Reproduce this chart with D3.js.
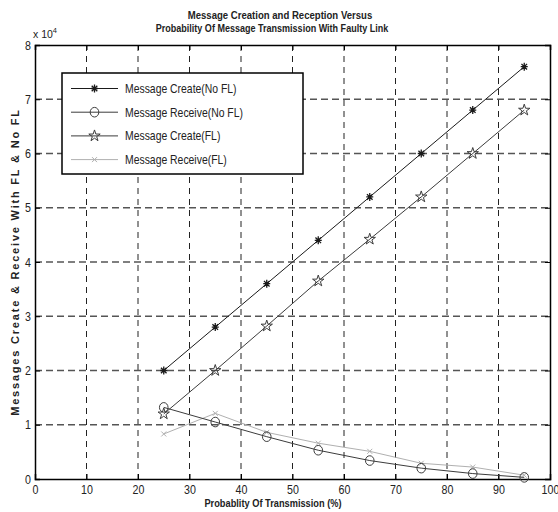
<!DOCTYPE html>
<html>
<head>
<meta charset="utf-8">
<script src="https://cdn.jsdelivr.net/npm/d3@7"></script>
<style>
  body { margin: 0; background: #fff; }
  svg text { font-family: "Liberation Sans Narrow", "Arial Narrow", "Liberation Sans", Arial, sans-serif; }
</style>
</head>
<body>
<script>
// data (values in messages)
var probability = [25, 35, 45, 55, 65, 75, 85, 95];
var createNoFL  = [20000, 28000, 36000, 44000, 52000, 60000, 68000, 76000];
var receiveNoFL = [13200, 10500, 7800, 5300, 3400, 2000, 1000, 300];
var createFL    = [12000, 20000, 28200, 36500, 44200, 52000, 60000, 68000];
var receiveFL   = [8300, 12100, 8600, 6600, 5100, 2900, 2200, 700];
var xTicks = [0, 10, 20, 30, 40, 50, 60, 70, 80, 90, 100];
var yTicks = [0, 1, 2, 3, 4, 5, 6, 7, 8];

var series = [
  {name: "Message Create(No FL)",  values: createNoFL,  color: "#1a1a1a", marker: "asterisk"},
  {name: "Message Receive(No FL)", values: receiveNoFL, color: "#3c3c3c", marker: "circle"},
  {name: "Message Create(FL)",     values: createFL,    color: "#3c3c3c", marker: "star"},
  {name: "Message Receive(FL)",    values: receiveFL,   color: "#b0b0b0", marker: "cross"}
];

var W = 558, H = 512;
var margin = {top: 45, right: 8, bottom: 33, left: 35},
    width = W - margin.left - margin.right,
    height = H - margin.top - margin.bottom;

// squeeze text horizontally, the original used a condensed helvetica
var narrow = function(sel, k) {
  sel.each(function() {
    var len = this.getComputedTextLength();
    d3.select(this).attr("textLength", len * k).attr("lengthAdjust", "spacingAndGlyphs");
  });
};

var svg = d3.select("body").append("svg")
    .attr("width", W)
    .attr("height", H);

var g = svg.append("g")
    .attr("transform", "translate(" + margin.left + "," + margin.top + ")");

var xScale = d3.scaleLinear().domain([0, 100]).range([0, width]);
var yScale = d3.scaleLinear().domain([0, 8]).range([height, 0]); // units of 10^4

// grid
g.append("g").selectAll("line")
  .data(xTicks.slice(1, -1))
  .enter().append("line")
  .attr("x1", d => xScale(d)).attr("x2", d => xScale(d))
  .attr("y1", 0).attr("y2", height)
  .attr("stroke", "#222").attr("stroke-width", 1)
  .attr("stroke-dasharray", "6,5");

g.append("g").selectAll("line")
  .data(yTicks.slice(1, -1))
  .enter().append("line")
  .attr("x1", 0).attr("x2", width)
  .attr("y1", d => yScale(d)).attr("y2", d => yScale(d))
  .attr("stroke", "#555").attr("stroke-width", 1.3)
  .attr("stroke-dasharray", "7,4");

// axes (ticks inward, matlab style)
var xAxis = d3.axisBottom(xScale).tickValues(xTicks).tickSize(-5).tickPadding(6).tickFormat(d3.format("d"));
var yAxis = d3.axisLeft(yScale).tickValues(yTicks).tickSize(-5).tickPadding(4).tickFormat(d3.format("d"));

g.append("g").attr("class", "x axis")
  .attr("transform", "translate(0," + height + ")")
  .call(xAxis);
g.append("g").attr("class", "y axis")
  .call(yAxis);
g.append("g").attr("transform", "translate(0,0)")
  .call(d3.axisTop(xScale).tickValues(xTicks).tickSize(-5).tickFormat(""));
g.append("g").attr("transform", "translate(" + width + ",0)")
  .call(d3.axisRight(yScale).tickValues(yTicks).tickSize(-5).tickFormat(""));

g.selectAll(".domain").attr("stroke", "#000").attr("stroke-width", 1.5);
g.selectAll(".tick line").attr("stroke", "#000");
g.selectAll(".tick text").attr("fill", "#222").style("font-size", "13px").call(narrow, 0.82);

// x 10^4 multiplier
var mult = svg.append("text").attr("x", 33).attr("y", 38).attr("fill", "#222").style("font-size", "10.5px");
mult.append("tspan").text("x 10");
mult.append("tspan").attr("dy", -5).style("font-size", "7.5px").text("4");

// markers
function drawMarker(sel, type, color) {
  if (type === "asterisk") {
    sel.append("path")
      .attr("d", "M-3.5,0H3.5M0,-4V4M-2.8,-2.8L2.8,2.8M-2.8,2.8L2.8,-2.8")
      .attr("stroke", color).attr("stroke-width", 1.3).attr("fill", "none");
  } else if (type === "circle") {
    sel.append("ellipse").attr("rx", 4.3).attr("ry", 4.8)
      .attr("stroke", color).attr("stroke-width", 1).attr("fill", "none");
  } else if (type === "star") {
    sel.append("path")
      .attr("d", d3.symbol(d3.symbolStar, 40)())
      .attr("stroke", color).attr("stroke-width", 1).attr("fill", "none");
  } else {
    sel.append("path")
      .attr("d", "M-2.5,-2.5L2.5,2.5M-2.5,2.5L2.5,-2.5")
      .attr("stroke", color).attr("stroke-width", 1).attr("fill", "none");
  }
}

var line = d3.line()
  .x(d => xScale(d[0]))
  .y(d => yScale(d[1] / 10000));

series.slice().reverse().forEach(function(s) {
  var pts = probability.map((p, i) => [p, s.values[i]]);
  g.append("path")
    .attr("d", line(pts))
    .attr("fill", "none")
    .attr("stroke", s.color)
    .attr("stroke-width", 1);
  g.selectAll(null)
    .data(pts)
    .enter().append("g")
    .attr("transform", d => "translate(" + xScale(d[0]) + "," + yScale(d[1] / 10000) + ")")
    .each(function() { drawMarker(d3.select(this), s.marker, s.color); });
});

// legend
var legend = svg.append("g").attr("transform", "translate(62,73)");
legend.append("rect")
  .attr("width", 241).attr("height", 101)
  .attr("fill", "#fff").attr("stroke", "#000").attr("stroke-width", 1.5);
series.forEach(function(s, i) {
  var row = legend.append("g").attr("transform", "translate(0," + (15.5 + i * 23.7) + ")");
  row.append("line").attr("x1", 9).attr("x2", 56).attr("y1", 0).attr("y2", 0)
    .attr("stroke", s.color).attr("stroke-width", 1);
  drawMarker(row.append("g").attr("transform", "translate(32.5,0)"), s.marker, s.color);
  row.append("text").attr("x", 63).attr("y", 4.5)
    .attr("fill", "#222").style("font-size", "13px")
    .text(s.name)
    .call(narrow, 0.8);
});

// title
var title = svg.append("text")
  .attr("text-anchor", "middle")
  .attr("fill", "#222")
  .style("font-size", "11px").style("font-weight", "bold");
title.append("tspan").attr("x", 280).attr("y", 19).text("Message Creation and Reception Versus").call(narrow, 0.87);
title.append("tspan").attr("x", 272).attr("y", 32).text("Probability Of Message Transmission With Faulty Link").call(narrow, 0.82);

// axis labels
svg.append("text")
  .attr("x", 273).attr("y", 507)
  .attr("text-anchor", "middle").attr("fill", "#222")
  .style("font-size", "11px").style("font-weight", "bold")
  .text("Probablity Of Transmission (%)")
  .call(narrow, 0.84);

svg.append("text")
  .attr("transform", "translate(19," + (margin.top + height / 2) + ") rotate(-90)")
  .attr("text-anchor", "middle").attr("fill", "#222")
  .style("font-size", "11px").style("font-weight", "bold")
  .style("letter-spacing", "1.8px")
  .text("Messages Create & Receive With FL & No FL");
</script>
</body>
</html>
